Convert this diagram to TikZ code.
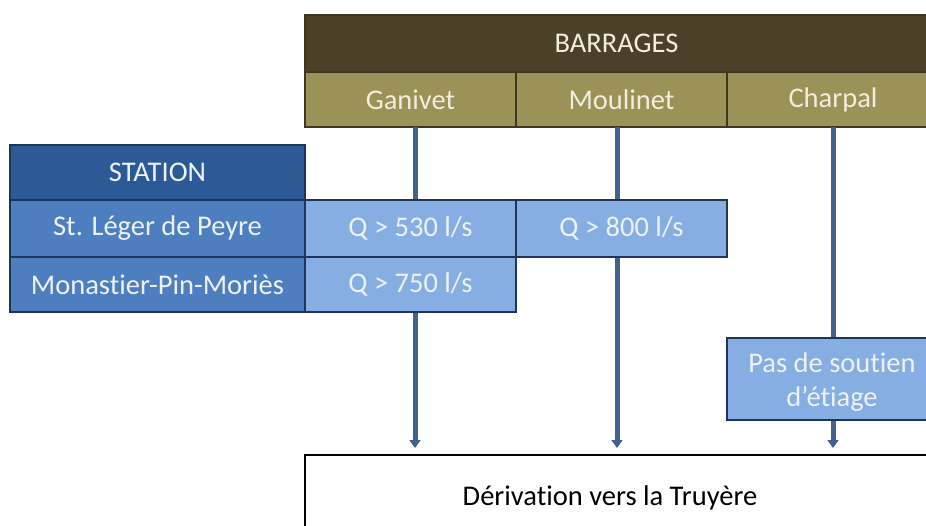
\documentclass[tikz,border=0pt]{standalone}
\usepackage{fontspec}
\setmainfont{Carlito}[Ligatures=NoCommon]
\usetikzlibrary{arrows.meta}
\definecolor{hdrdark}{HTML}{4B4129}
\definecolor{hdrolive}{HTML}{9A9257}
\definecolor{oliveline}{HTML}{3E361F}
\definecolor{stdark}{HTML}{2C5A97}
\definecolor{stmid}{HTML}{4D7EC0}
\definecolor{qlight}{HTML}{86AEE3}
\definecolor{navyline}{HTML}{1E3558}
\definecolor{flowline}{HTML}{41628D}
\definecolor{paletext}{HTML}{EEF2F8}
\definecolor{creamtext}{HTML}{F2EEDC}
\begin{document}
\begin{tikzpicture}[x=1pt,y=-1pt,
  every node/.style={inner sep=0pt, outer sep=0pt, font=\fontsize{28.5}{34}\selectfont},
  cell/.style={draw, line width=1.6pt, anchor=north west},
  dam/.style={cell, fill=hdrolive, draw=oliveline, text=creamtext, minimum width=211pt, minimum height=55pt},
  stn/.style={cell, fill=stmid, draw=navyline, text=paletext, minimum width=295pt, minimum height=57pt},
  flow/.style={cell, fill=qlight, draw=navyline, text=paletext, minimum width=211pt, minimum height=57pt},
  feed/.style={draw=flowline, line width=5pt, -{Triangle[width=11pt,length=8pt]}, shorten >=7pt}
]
\useasboundingbox (0,0) rectangle (926,526);
\clip (0,0) rectangle (926,526);

% flow lines run behind the boxes
\coordinate (gx) at (415,127);
\coordinate (mx) at (617,127);
\coordinate (cx) at (833,127);

% dams
\node[cell, fill=hdrdark, draw=oliveline, text=creamtext, minimum width=623pt, minimum height=57pt] (barrages) at (305,15) {BARRAGES};
\node[dam] (ganivet) at (305,72) {Ganivet};
\node[dam] (moulinet) at (516,72) {Moulinet};
\node[dam, minimum width=230pt] (charpal) at (727,72) {\hspace*{-18pt}Charpal};

% target
\node[cell, fill=white, draw=black, line width=1.4pt, minimum width=625pt, minimum height=85pt, text=black] (deriv) at (305,455) {\raisebox{4pt}{Dérivation vers la Truyère\hspace*{15pt}}};

\draw[feed] (gx) -- (gx |- deriv.north);
\draw[feed] (mx) -- (mx |- deriv.north);
\draw[feed] (cx) -- (cx |- deriv.north);

% stations and thresholds
\node[cell, fill=stdark, draw=navyline, text=paletext, minimum width=295pt, minimum height=55pt] (station) at (10,145) {STATION};
\node[stn] (leger) at (10,200) {St. Léger de Peyre};
\node[stn, minimum height=55pt] (monastier) at (10,257) {Monastier-Pin-Moriès};
\node[flow] (q530) at (305,200) {Q > 530 l/s};
\node[flow] (q800) at (516,200) {Q > 800 l/s};
\node[flow, minimum height=55pt] (q750) at (305,257) {Q > 750 l/s};
\node[flow, minimum width=230pt, minimum height=82pt] (pas) at (727,338) {\hspace*{-20pt}\begin{tabular}{@{}c@{}}\rule{0pt}{32pt}Pas de soutien\\ d’étiage\end{tabular}};
\end{tikzpicture}
\end{document}
